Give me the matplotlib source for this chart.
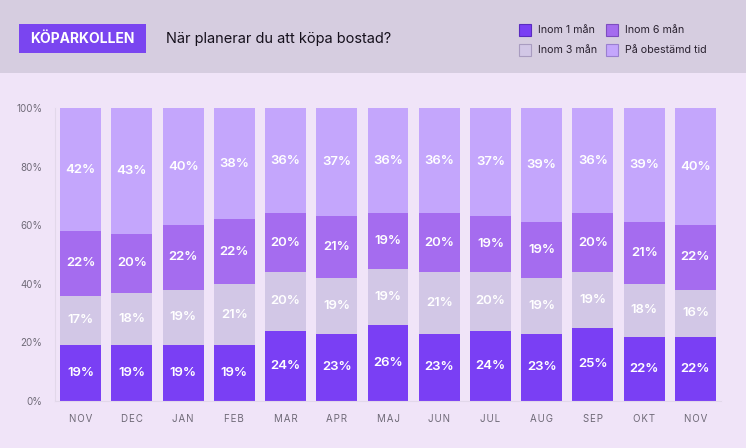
import matplotlib
matplotlib.use("Agg")
import matplotlib.pyplot as plt
from matplotlib.patches import Rectangle
import numpy as np

plt.rcParams['font.family'] = ['Inter', 'DejaVu Sans']

months = ["NOV", "DEC", "JAN", "FEB", "MAR", "APR", "MAJ", "JUN", "JUL", "AUG", "SEP", "OKT", "NOV"]
inom1 = [19, 19, 19, 19, 24, 23, 26, 23, 24, 23, 25, 22, 22]
inom3 = [17, 18, 19, 21, 20, 19, 19, 21, 20, 19, 19, 18, 16]
inom6 = [22, 20, 22, 22, 20, 21, 19, 20, 19, 19, 20, 21, 22]
obest = [42, 43, 40, 38, 36, 37, 36, 36, 37, 39, 36, 39, 40]
series_names = ["Inom 1 mån", "Inom 3 mån", "Inom 6 mån", "På obestämd tid"]
yticks = [0, 20, 40, 60, 80, 100]

colors = ["#7a3ff4", "#d2c7e6", "#a56cef", "#c4a6fc"]
edge_colors = ["#5a2bc0", "#a99cc0", "#7d4cc0", "#9a7fd0"]

fig = plt.figure(figsize=(7.46, 4.48), dpi=100)
fig.patch.set_facecolor("#f0e4f8")
# header band
fig.patches.append(Rectangle((0, 1 - 73/448), 1, 73/448, transform=fig.transFigure,
                             facecolor="#d6cde0", edgecolor="none", zorder=0))
# badge
fig.patches.append(Rectangle((19/746, 1 - 53/448), 127/746, 29/448, transform=fig.transFigure,
                             facecolor="#7a45f0", edgecolor="none", zorder=1))
fig.text(82.5/746, 1 - 39/448, "KÖPARKOLLEN", color="white", fontsize=10, fontweight="bold",
         ha="center", va="center")
fig.text(166/746, 1 - 39/448, "När planerar du att köpa bostad?", color="#15101c", fontsize=10.5,
         ha="left", va="center")

# legend
leg_pos = [(519, 30), (519, 50), (606, 30), (606, 50)]
for (lx, ly), name, c, ec in zip(leg_pos, series_names, colors, edge_colors):
    fig.patches.append(Rectangle((lx/746, 1 - (ly + 6)/448), 12/746, 12/448, transform=fig.transFigure,
                                 facecolor=c, edgecolor=ec, linewidth=0.8, zorder=2))
    fig.text((lx + 19)/746, 1 - ly/448, name, color="#2a2230", fontsize=7.7, ha="left", va="center")

ax = fig.add_axes([55/746, 47/448, 666/746, 293/448])
ax.set_facecolor("none")
x = np.arange(len(months))
bottoms = np.zeros(len(months))
for vals, c in zip([inom1, inom3, inom6, obest], colors):
    vals = np.array(vals, dtype=float)
    ax.bar(x, vals, bottom=bottoms, width=0.8, color=c, edgecolor="none", zorder=2)
    for xi, b, v in zip(x, bottoms, vals):
        ax.text(xi, b + v/2, f"{int(v)}%", ha="center", va="center", color="white",
                fontsize=9.5, fontweight="semibold", zorder=3)
    bottoms += vals

ax.set_xlim(-0.5, len(months) - 0.5)
ax.set_ylim(0, 100)
ax.set_yticks(yticks)
ax.set_yticklabels([f"{t}%" for t in yticks], color="#6f6a78", fontsize=7)
ax.set_xticks(x)
ax.set_xticklabels(["\u200a".join(m) for m in months], color="#6f6a78", fontsize=7)
ax.tick_params(length=0, pad=9)
ax.tick_params(axis="y", pad=9)
for s in ["top", "right"]:
    ax.spines[s].set_visible(False)
ax.spines["left"].set_color("#e2d8ea")
ax.spines["bottom"].set_color("#e2d8ea")

fig.savefig("out.png", dpi=100, facecolor=fig.get_facecolor())
